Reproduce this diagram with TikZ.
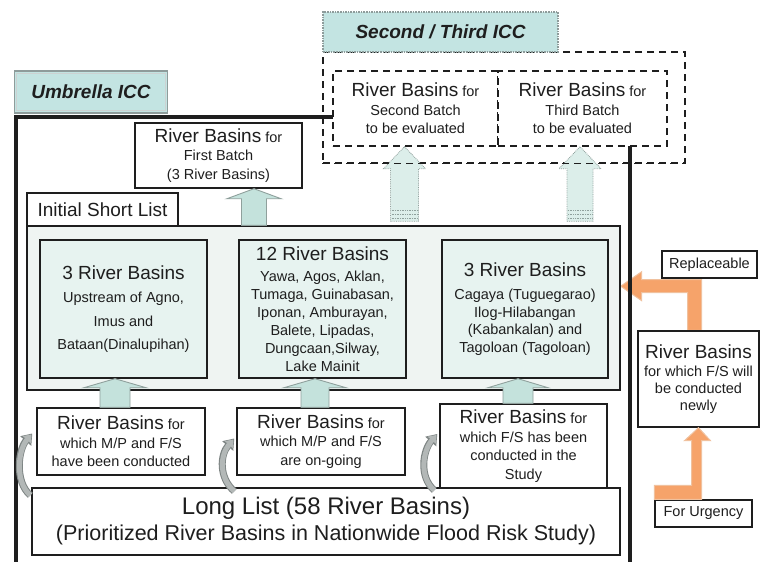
\documentclass[tikz,border=0pt]{standalone}
\usepackage{fontspec}
\setmainfont{Liberation Sans}
\usetikzlibrary{calc,arrows.meta}

\definecolor{ink}{HTML}{1E1E1E}
\definecolor{tabfill}{HTML}{C3E4E2}
\definecolor{tabedge}{HTML}{8E9C9B}
\definecolor{slfill}{HTML}{EFF4F2}
\definecolor{boxfill}{HTML}{E7F3F0}
\definecolor{arrfill}{HTML}{C4E2DC}
\definecolor{arredge}{HTML}{8FA09C}
\definecolor{dashfill}{HTML}{DCEEEA}
\definecolor{orangefill}{HTML}{F6A36A}
\definecolor{orangeedge}{HTML}{F0C19E}
\definecolor{curvegray}{HTML}{B3B8B7}
\definecolor{curveedge}{HTML}{7E8584}

\newcommand\rbbig{\fontsize{19}{21}\selectfont}
\newcommand\rbsub{\fontsize{14.5}{18.5}\selectfont}

% block arrow pointing up: style, base coordinate, target (for the tip height),
% half shaft width, half head width, head length
\newcommand\upblock[6]{%
  \path[#1] ($(#2)+(-#4,0)$) -- ($(#2 |- #3)+(-#4,#6)$) -- ($(#2 |- #3)+(-#5,#6)$)
    -- (#2 |- #3) -- ($(#2 |- #3)+(#5,#6)$) -- ($(#2 |- #3)+(#4,#6)$)
    -- ($(#2)+(#4,0)$) -- cycle;}

\pgfdeclarelayer{under}
\pgfsetlayers{under,main}

\tikzset{
  plainbox/.style={draw=ink, line width=1.4pt, fill=white, text=ink, align=center,
    inner sep=0pt, font=\rbsub},
  tealbox/.style={plainbox, fill=boxfill},
  tabbox/.style={draw=tabedge, line width=1.6pt, fill=tabfill, text=ink, inner sep=0pt,
    font=\fontsize{19}{21}\selectfont\bfseries\itshape},
  tabbevel/.style={draw=white!55!tabedge, line width=0.8pt},
  dashbox/.style={draw=ink, line width=1.4pt, dash pattern=on 7pt off 5pt},
  framebox/.style={draw=ink, line width=4.5pt, inner sep=0pt},
  solidarrow/.style={fill=arrfill, draw=arredge, line width=0.9pt},
  dasharrow/.style={fill=dashfill, draw=arredge, line width=0.8pt, densely dotted},
  hatch/.style={draw=arredge, line width=0.7pt, densely dotted},
  orangearrow/.style={fill=orangefill, draw=orangeedge, line width=1pt},
  curveback/.style={draw=curveedge, line width=7pt, -{Triangle[width=14pt,length=10pt]}},
  curvearrow/.style={draw=curvegray, line width=5pt, shorten >=1.3pt,
    -{Triangle[width=10.5pt,length=7pt]}},
}

\begin{document}
\begin{tikzpicture}[x=1pt,y=-1pt]
\useasboundingbox (0,0) rectangle (761,562);
\begin{pgfonlayer}{under}
  \fill[white] (0,0) rectangle (761,562);
\end{pgfonlayer}

% Umbrella ICC frame and its tab
\node[framebox, minimum width=614pt, minimum height=448pt] (umb) at (323,341) {};
\node[tabbox, minimum width=153pt, minimum height=42pt] (umtab) at (91,92) {Umbrella ICC};
\draw[tabbevel] ($(umtab.north west)+(3,3)$) rectangle ($(umtab.south east)+(-3,-3)$);

% initial short list
\node[plainbox, fill=slfill, minimum width=593pt, minimum height=164pt] (sl) at (323.5,308) {};
\node[plainbox, minimum width=151pt, minimum height=33pt,
  font=\fontsize{19}{21}\selectfont] (sltab) at (102.5,209.5) {Initial Short List};

\node[tealbox, minimum width=167pt, minimum height=138pt] (s1) at (123.5,309)
  {{\rbbig 3 River Basins}\\[5pt]Upstream of Agno,\\[5pt]Imus and\\[5pt]Bataan(Dinalupihan)};
\node[tealbox, minimum width=167pt, minimum height=138pt] (s2) at (322.5,309)
  {{\rbbig 12 River Basins}\\[3pt]Yawa, Agos, Aklan,\\[-0.5pt]Tumaga, Guinabasan,\\[-0.5pt]Iponan, Amburayan,\\[-0.5pt]Balete, Lipadas,\\[-0.5pt]Dungcaan,Silway,\\[-0.5pt]Lake Mainit};
\node[tealbox, minimum width=166pt, minimum height=138pt] (s3) at (525,309)
  {{\rbbig 3 River Basins}\\[5pt]Cagaya (Tuguegarao)\\[-1pt]Ilog-Hilabangan\\[-1pt](Kabankalan) and\\[-1pt]Tagoloan (Tagoloan)};

% first batch
\node[plainbox, minimum width=167pt, minimum height=65pt] (fb) at (218.5,155.5)
  {{\rbbig River Basins} for\\First Batch\\(3 River Basins)};
\coordinate (fbb) at ($(fb.south |- sl.north)+(35.5,0)$);
\upblock{solidarrow}{fbb}{fb.south}{12.5}{27}{10}

% second / third ICC: batches still to be evaluated
\node[plainbox, dashbox, minimum width=165pt, minimum height=75pt] (sb2) at (415.5,108.5)
  {{\rbbig River Basins} for\\Second Batch\\to be evaluated};
\node[plainbox, dashbox, minimum width=169pt, minimum height=75pt] (sb3) at (582.5,108.5)
  {{\rbbig River Basins} for\\Third Batch\\to be evaluated};
\node[dashbox, minimum width=362pt, minimum height=111pt, inner sep=0pt] (stouter) at (504,107.5) {};
\node[tabbox, draw=tabedge, densely dotted, minimum width=235pt, minimum height=40pt] (sttab)
  at (440.5,32) {Second / Third ICC};

\coordinate (d2b) at ($(sb2.south |- sl.north)+(-11,-4)$);
\coordinate (d3b) at ($(sb3.south |- sl.north)+(-2.5,-4)$);
\upblock{dasharrow}{d2b}{sb2.south}{14}{21}{22}
\upblock{dasharrow}{d3b}{sb3.south}{13}{21}{22}
\foreach \dy in {-3,-7,-11} {
  \draw[hatch] ($(d2b)+(-13,\dy)$) -- ($(d2b)+(13,\dy)$);
  \draw[hatch] ($(d3b)+(-12,\dy)$) -- ($(d3b)+(12,\dy)$);
}
% dashed frame line runs over the arrows
\draw[dashbox] (stouter.south west) -- (stouter.south east);

% lower boxes and long list
\node[plainbox, minimum width=168pt, minimum height=67pt] (la) at (121,441.5)
  {{\rbbig River Basins} for\\which M/P and F/S\\have been conducted};
\node[plainbox, minimum width=168pt, minimum height=67pt] (lb) at (321,441.5)
  {{\rbbig River Basins} for\\which M/P and F/S\\are on-going};
\node[plainbox, minimum width=167pt, minimum height=84pt] (lc) at (523.5,446)
  {{\rbbig River Basins} for\\which F/S has been\\conducted in the\\Study};
\node[plainbox, minimum width=588pt, minimum height=67pt,
  font=\fontsize{21.5}{28}\selectfont] (ll) at (326,521.5)
  {\raisebox{-3pt}{\fontsize{24}{28}\selectfont Long List (58 River Basins)}\\[1pt](Prioritized River Basins in Nationwide Flood Risk Study)};

% arrows from the lower boxes into the short list
\coordinate (a1b) at ($(la.north)+(-6,0)$);
\coordinate (a2b) at ($(lb.north)+(-6,0)$);
\coordinate (a3b) at ($(lc.north)+(-5.5,0)$);
\upblock{solidarrow}{a1b}{s1.south}{15}{31}{9}
\upblock{solidarrow}{a2b}{s2.south}{14}{31}{9}
\upblock{solidarrow}{a3b}{s3.south}{15}{30}{9}

% curved arrows from the long list
\coordinate (c1b) at ($(ll.north west)+(-1,8)$);
\coordinate (c1t) at ($(la.west)+(-4,-8)$);
\coordinate (c2b) at ($(ll.north -| lb.west)+(-2,4)$);
\coordinate (c2t) at ($(lb.west)+(-2,-3)$);
\coordinate (c3b) at ($(ll.north -| lc.west)+(-5,3)$);
\coordinate (c3t) at ($(lc.west)+(-2,-12)$);
\foreach \b/\t in {c1b/c1t, c2b/c2t, c3b/c3t} {
  \draw[curveback] (\b) .. controls +(-16,-14) and +(-14,16) .. (\t);
  \draw[curvearrow] (\b) .. controls +(-16,-14) and +(-14,16) .. (\t);
}

% right-hand side
\node[plainbox, minimum width=95pt, minimum height=27pt] (rep) at (709.5,264.5) {Replaceable};
\node[plainbox, minimum width=121pt, minimum height=96pt] (newly) at (698.5,379)
  {{\rbbig River Basins}\\[-1pt]for which F/S will\\[-1.5pt]be conducted\\[-1.5pt]newly};
\node[plainbox, minimum width=97pt, minimum height=27pt] (urg) at (703.5,513.5) {For Urgency};

\begin{pgfonlayer}{under}
  \path[orangearrow] ($(newly.north)+(-11,0)$) -- ($(newly.north |- rep.south)+(-11,14)$)
    -- ($(sl.east |- rep.south)+(21,14)$) -- ($(sl.east |- rep.south)+(21,22)$)
    -- ($(sl.east |- rep.south)+(0,7.5)$) -- ($(sl.east |- rep.south)+(21,-7)$)
    -- ($(sl.east |- rep.south)+(21,1)$) -- ($(newly.north |- rep.south)+(3,1)$)
    -- ($(newly.north)+(3,0)$) -- cycle;
\end{pgfonlayer}
\path[orangearrow] (urg.north west) -- ($(newly.south |- urg.north)+(3,0)$)
  -- ($(newly.south)+(3,13)$) -- ($(newly.south)+(12,13)$) -- (newly.south)
  -- ($(newly.south)+(-14,13)$) -- ($(newly.south)+(-7,13)$)
  -- ($(newly.south |- urg.north)+(-7,-14)$) -- ($(urg.north west)+(0,-14)$) -- cycle;
\end{tikzpicture}
\end{document}
